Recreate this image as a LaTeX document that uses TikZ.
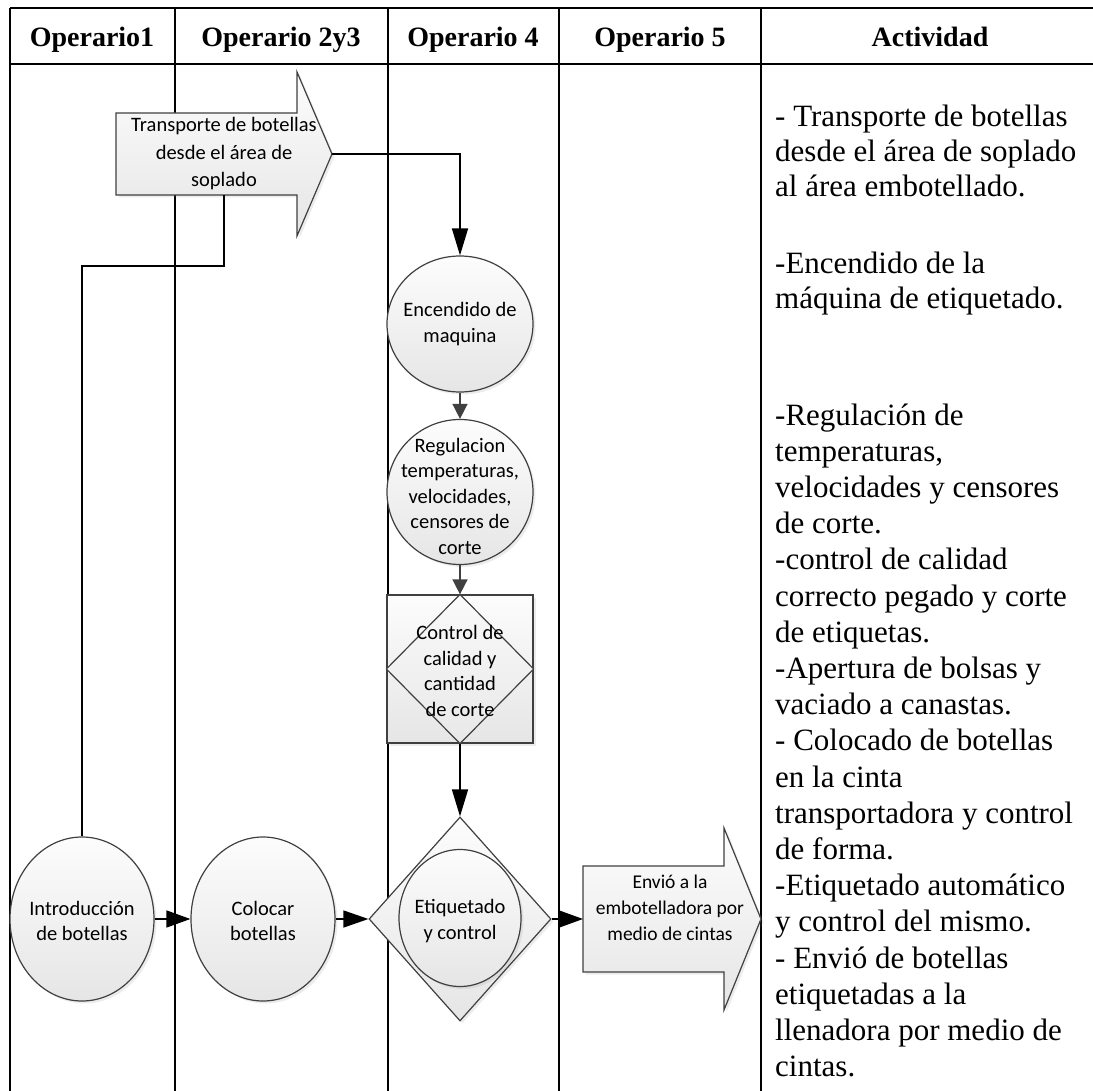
\documentclass[tikz,border=0pt]{standalone}
\usepackage{fontspec}
\setmainfont{Liberation Serif}
\newfontfamily\flowfont{Carlito}
\usetikzlibrary{shapes.geometric,arrows.meta,shadows}
\definecolor{edge}{HTML}{404040}
\begin{document}
\begin{tikzpicture}[x=1pt,y=-1pt,
  rule/.style={line width=2.2pt,black},
  hdr/.style={font=\fontsize{28}{32}\selectfont\bfseries, anchor=base, inner sep=0},
  act/.style={font=\fontsize{31}{36}\selectfont, anchor=base west, inner sep=0},
  shapefill/.style={draw=edge, line width=1.2pt, top color=white!99!black, bottom color=white!90!black,
    drop shadow={opacity=0.15,shadow xshift=2.5pt,shadow yshift=-2.5pt}},
  bubble/.style={shapefill, ellipse, inner sep=0},
  txt/.style={font=\flowfont\fontsize{20.5}{25.5}\selectfont, align=center, inner sep=0},
  link/.style={line width=1.5pt, black, -{Triangle[length=27pt,width=16pt]}},
  plain/.style={line width=1.5pt, black},
  slink/.style={line width=1.5pt, edge, -{Triangle[length=15pt,width=15pt]}}
]
\useasboundingbox (0,0) rectangle (1093,1091);

% table grid
\draw[rule] (10,8) -- (1093,8);
\draw[rule] (10,64) -- (1093,64);
\foreach \cx in {10,175,388,559,761}
  \draw[rule] (\cx,8) -- (\cx,1091);

% column headings
\node[hdr] (h1) at (92,47) {Operario1};
\node[hdr] (h2) at (281,47) {Operario 2y3};
\node[hdr] (h3) at (473,47) {Operario 4};
\node[hdr] (h4) at (660,47) {Operario 5};
\node[hdr] (h5) at (930,47) {Actividad};

% transport arrow
\path[shapefill] (116,113) -- (297,113) -- (297,72) -- (332,154) -- (297,236) -- (297,195) -- (116,195) -- cycle;
\coordinate (trtip) at (332,154);
\coordinate (trbot) at (224,195);
\node[txt, font=\flowfont\fontsize{20.5}{27.5}\selectfont] (tr) at (224,154) {Transporte de botellas\\desde el área de\\soplado};

% operario 4 column
\node[bubble, minimum width=146pt, minimum height=136pt] (enc) at (460,324) {};
\node[txt] (enct) at (enc.center) {Encendido de\\maquina};
\node[bubble, minimum width=146pt, minimum height=145pt] (reg) at (460,492) {};
\node[txt] (regt) at (460,496) {Regulacion\\temperaturas,\\velocidades,\\censores de\\corte};
\node[shapefill, rectangle, minimum width=146pt, minimum height=148pt, inner sep=0] (ctl) at (460,669) {};
\path[draw=edge, line width=1.2pt, top color=white!98!black, bottom color=white!91!black]
  (ctl.north) -- (ctl.east) -- (ctl.south) -- (ctl.west) -- cycle;
\node[txt] (ctlt) at (460,671) {Control de\\calidad y\\cantidad\\de corte};

\node[shapefill, diamond, minimum width=182pt, minimum height=204pt, inner sep=0] (dia) at (460,919) {};
\node[bubble, minimum width=122pt, minimum height=137pt] (etq) at (460,918) {};
\node[txt] (etqt) at (460,921) {Etiquetado\\y control};

% bottom row
\node[bubble, minimum width=144pt, minimum height=164pt] (intro) at (82,919) {};
\node[txt] (introt) at (82,921) {Introducción\\de botellas};
\node[bubble, minimum width=144pt, minimum height=164pt] (col) at (263,919) {};
\node[txt] (colt) at (263,921) {Colocar\\botellas};

% sending arrow
\node[inner sep=0, minimum size=0pt] (envin) at (583,919) {};
\path[shapefill] (envin.center) -- (583,866) -- (724,866) -- (724,828) -- (761,919) -- (724,1010) -- (724,972) -- (583,972) -- cycle;
\node[txt, font=\flowfont\fontsize{19.5}{26}\selectfont] (envt) at (670,908) {Envió a la\\embotelladora por\\medio de cintas};

% connectors
\draw[link] (trtip) -| (enc.north);
\draw[plain] (trbot) -- (224,266) -| (intro.north);
\draw[slink] (enc.south) -- (reg.north);
\draw[slink] (reg.south) -- (ctl.north);
\draw[link] (ctl.south) -- (dia.north);
\draw[line width=1.5pt, black, -{Triangle[length=24pt,width=17pt]}] (intro.east) -- (col.west);
\draw[line width=1.5pt, black, -{Triangle[length=25pt,width=17pt]}] (col.east) -- (dia.west);
\draw[line width=1.5pt, black, -{Triangle[length=24pt,width=17pt]}] (dia.east) -- (envin.center);

% activity descriptions
\node[act] (a1) at (775,127) {- Transporte de botellas};
\node[act] (a2) at (775,162) {desde el área de soplado};
\node[act] (a3) at (775,197) {al área embotellado.};
\node[act] (a4) at (775,274) {-Encendido de la};
\node[act] (a5) at (775,309) {máquina de etiquetado.};
\node[act] (a6) at (775,425) {-Regulación de};
\node[act] (a7) at (775,461.2) {temperaturas,};
\node[act] (a8) at (775,497.4) {velocidades y censores};
\node[act] (a9) at (775,533.6) {de corte.};
\node[act] (a10) at (775,569.8) {-control de calidad};
\node[act] (a11) at (775,606) {correcto pegado y corte};
\node[act] (a12) at (775,642.2) {de etiquetas.};
\node[act] (a13) at (775,678.4) {-Apertura de bolsas y};
\node[act] (a14) at (775,714.6) {vaciado a canastas.};
\node[act] (a15) at (775,750.8) {- Colocado de botellas};
\node[act] (a16) at (775,787) {en la cinta};
\node[act] (a17) at (775,823.2) {transportadora y control};
\node[act] (a18) at (775,859.4) {de forma.};
\node[act] (a19) at (775,895.6) {-Etiquetado automático};
\node[act] (a20) at (775,931.8) {y control del mismo.};
\node[act] (a21) at (775,968) {- Envió de botellas};
\node[act] (a22) at (775,1004.2) {etiquetadas a la};
\node[act] (a23) at (775,1040.4) {llenadora por medio de};
\node[act] (a24) at (775,1076.6) {cintas.};
\end{tikzpicture}
\end{document}
